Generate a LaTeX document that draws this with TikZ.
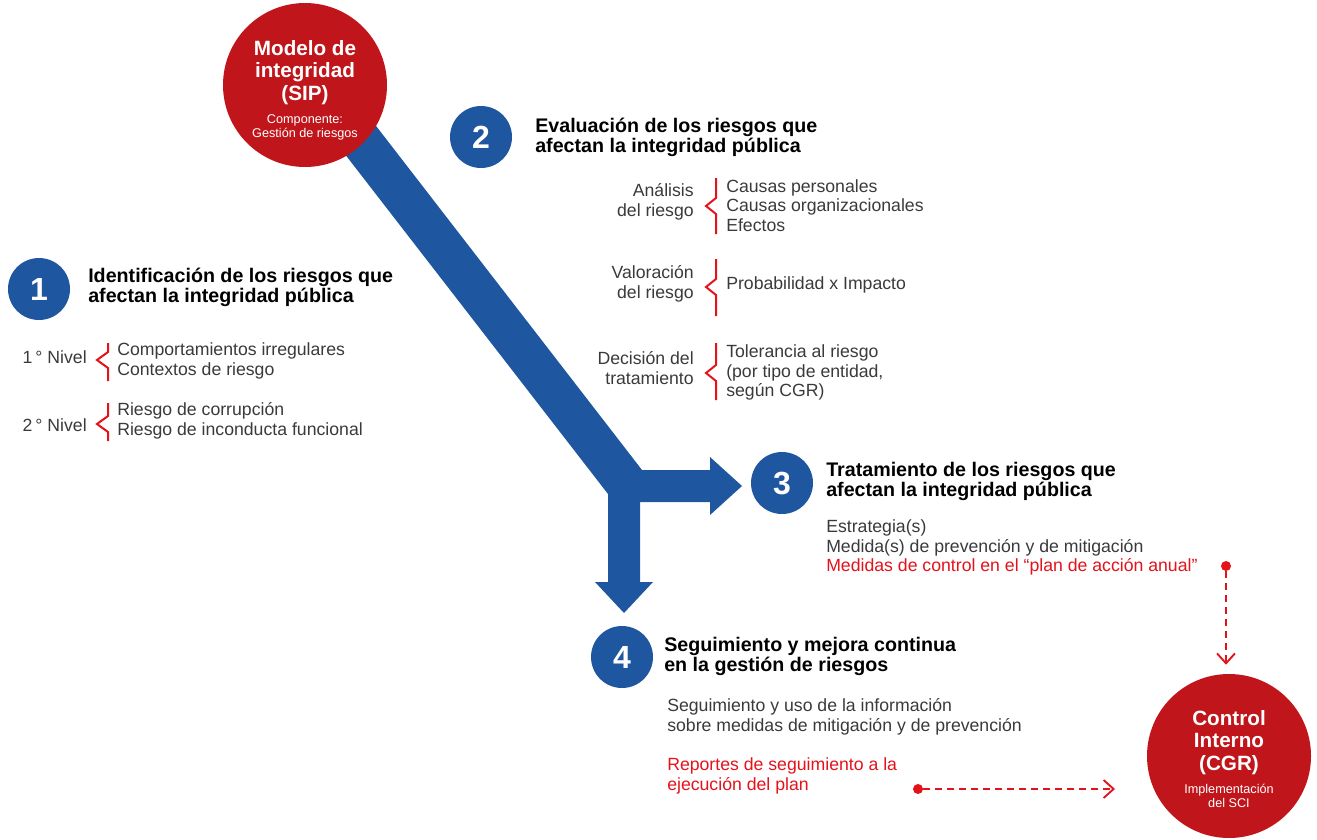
\documentclass[tikz,border=0pt]{standalone}
\usepackage{fontspec}
\setmainfont{Liberation Sans}
\usetikzlibrary{arrows.meta}
\definecolor{cred}{HTML}{C0161B}
\definecolor{tred}{HTML}{E3121B}
\definecolor{cblue}{HTML}{1F56A0}
\definecolor{tgray}{HTML}{3A3A3A}
\begin{document}
\begin{tikzpicture}[x=0.75pt,y=-0.75pt,
  bigcirc/.style={circle,fill=cred,minimum size=123pt,inner sep=0},
  numcirc/.style={circle,fill=cblue,text=white,minimum size=46.5pt,inner sep=0,font=\bfseries\fontsize{24}{24}\selectfont},
  head/.style={anchor=west,align=left,inner sep=0,font=\bfseries\fontsize{14.75}{15}\selectfont,text=black},
  body/.style={anchor=west,align=left,inner sep=0,font=\fontsize{13.25}{14.6}\selectfont,text=tgray},
  lab/.style={anchor=east,align=right,inner sep=0,font=\fontsize{13.25}{14.6}\selectfont,text=tgray},
  ctitle/.style={align=center,inner sep=0,text=white,font=\bfseries\fontsize{15.5}{16.9}\selectfont},
  csub/.style={align=center,inner sep=0,text=white,font=\fontsize{9.5}{10.5}\selectfont},
  bracepath/.style={draw=tred,line width=1.5pt,line join=miter},
  dline/.style={draw=tred,line width=1.4pt,dash pattern=on 5pt off 4pt,-{Straight Barb[length=7.5pt,width=13.5pt,line width=1.4pt]}},
  reddot/.style={circle,fill=tred,minimum size=7.5pt,inner sep=0}
]
\useasboundingbox (0,0) rectangle (1317,839);

% blue flow arrow
\fill[cblue] (303,100) -- (356,100) -- (642,470) -- (710,470) -- (710,457) -- (742,486)
  -- (710,515) -- (710,502) -- (640,502) -- (640,582) -- (653,582) -- (624,613)
  -- (595,582) -- (608,582) -- (608,494) -- cycle;

% top circle
\node[bigcirc] (sip) at (305,85) {};
\node[ctitle] (sipt) at (305,72.5) {Modelo de\\integridad\\(SIP)};
\node[csub] (sips) at (305,127) {Componente:\\Gestión de riesgos};

% bottom right circle
\node[bigcirc] (cgr) at (1229,756) {};
\node[ctitle] (cgrt) at (1229,742.5) {Control\\Interno\\(CGR)};
\node[csub] (cgrs) at (1229,796) {Implementación\\del SCI};

% section 1
\node[numcirc] (n1) at (39,289) {1};
\node[head] (h1) at (88,287) {Identificación de los riesgos que\\afectan la integridad pública};
\node[lab] (l11) at (87,357) {1\,° Nivel};
\node[body] (i11) at (117,361) {Comportamientos irregulares\\Contextos de riesgo};
\node[lab] (l12) at (87,425) {2\,° Nivel};
\node[body] (i12) at (117,421) {Riesgo de corrupción\\Riesgo de inconducta funcional};
\draw[bracepath] (108,343) -- (108,352) -- (97,360) -- (108,368) -- (108,381);
\draw[bracepath] (108,403) -- (108,416) -- (97,424) -- (108,432) -- (108,441);

% section 2
\node[numcirc] (n2) at (481,137) {2};
\node[head] (h2) at (535,137) {Evaluación de los riesgos que\\afectan la integridad pública};
\node[lab] (l21) at (694,202) {Análisis\\del riesgo};
\node[body] (i21) at (726,205.5) {Causas personales\\Causas organizacionales\\Efectos};
\node[lab] (l22) at (694,284) {Valoración\\del riesgo};
\node[body] (i22) at (726,285) {Probabilidad x Impacto};
\node[lab] (l23) at (694,368) {Decisión del\\tratamiento};
\node[body] (i23) at (726,372.5) {Tolerancia al riesgo\\(por tipo de entidad,\\según CGR)};
\draw[bracepath] (716,178) -- (716,198) -- (706,206) -- (716,214) -- (716,234);
\draw[bracepath] (716,259) -- (716,279) -- (706,287) -- (716,295) -- (716,316);
\draw[bracepath] (716,343) -- (716,365) -- (706,373) -- (716,381) -- (716,400);

% section 3
\node[numcirc] (n3) at (782,483) {3};
\node[head] (h3) at (826,481) {Tratamiento de los riesgos que\\afectan la integridad pública};
\node[body] (i3) at (826,547.5) {Estrategia(s)\\Medida(s) de prevención y de mitigación\\\textcolor{tred}{Medidas de control en el “plan de acción anual”}};
\node[reddot] (dot1) at (1226,566) {};

% section 4
\node[numcirc] (n4) at (622,657) {4};
\node[head] (h4) at (664,656.5) {Seguimiento y mejora continua\\en la gestión de riesgos};
\node[body] (i4) at (667,717) {Seguimiento y uso de la información\\sobre medidas de mitigación y de prevención};
\node[body,text=tred] (r4) at (667,776) {Reportes de seguimiento a la\\ejecución del plan};
\node[reddot] (dot2) at (918,789) {};
\coordinate (e2) at (1115,789);

% dashed connectors
\draw[dline,shorten >=6.75pt] (dot1) -- (dot1 |- cgr.north);
\draw[dline] (dot2) -- (e2);
\end{tikzpicture}
\end{document}
